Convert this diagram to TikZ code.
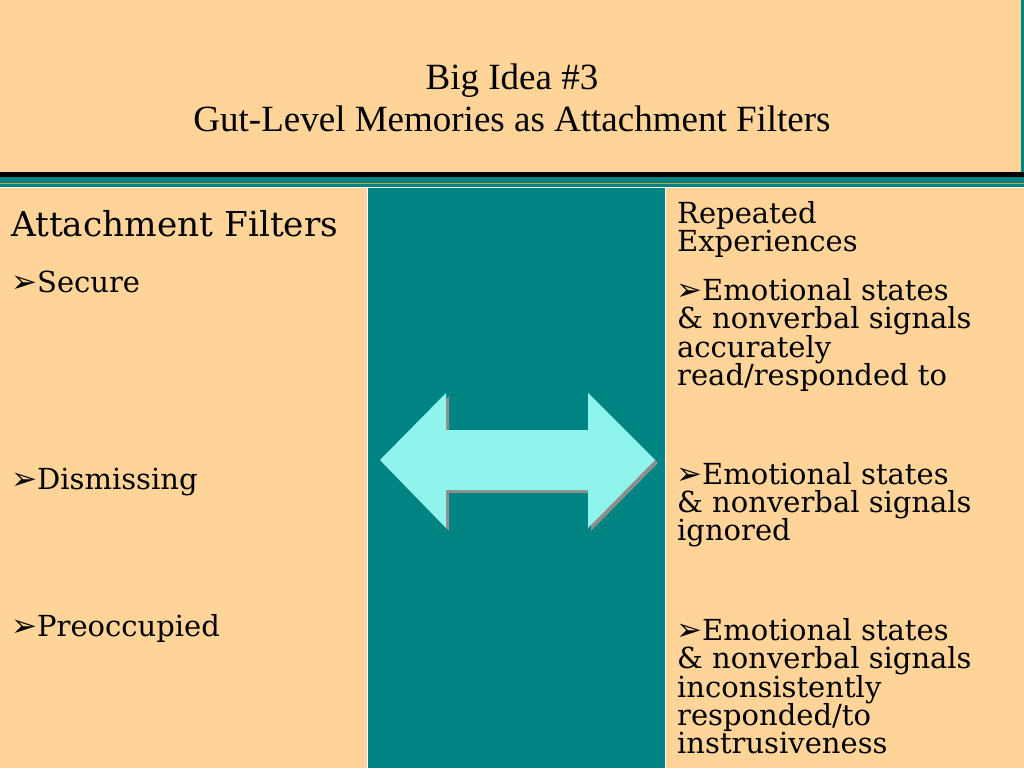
\documentclass[tikz,border=0pt]{standalone}
\usepackage{fontspec}
\setmainfont{DejaVu Serif}
\newfontfamily\titlefont{Liberation Serif}
\newfontfamily\symfont{DejaVu Sans}
\definecolor{peach}{HTML}{FFD499}
\definecolor{teal}{HTML}{008383}
\definecolor{aqua}{HTML}{8EF4EC}
\definecolor{gold}{HTML}{C8A040}
\newcommand{\bul}{{\symfont\fontsize{31}{31}\selectfont ➢}}
\begin{document}
\begin{tikzpicture}[x=1pt,y=-1pt,
  lbl/.style={anchor=base west,inner sep=0pt,font=\fontsize{29}{29}\selectfont},
  big/.style={anchor=base west,inner sep=0pt,font=\fontsize{34.3}{34}\selectfont},
  ttl/.style={anchor=base,inner sep=0pt,font=\titlefont\fontsize{37}{37}\selectfont}]
\useasboundingbox (0,0) rectangle (1024,768);
% background bands
\fill[teal] (0,0) rectangle (1024,768);
\fill[peach] (0,0) rectangle (1021,172);
\fill[black] (0,172) rectangle (1024,176.5);
\fill[gold] (0,182.5) rectangle (1024,184);
\fill[white] (0,186.5) rectangle (1024,188);
\fill[peach] (0,188) rectangle (366.5,768);
\fill[white] (366.5,188) rectangle (368,768);
\fill[white] (664.5,188) rectangle (666,768);
\fill[peach] (666,188) rectangle (1024,768);
% title
\node[ttl] (t1) at (512,89) {Big Idea \#3};
\node[ttl] (t2) at (512,131) {Gut-Level Memories as Attachment Filters};
% left panel
\node[big] (af) at (11,236) {Attachment Filters};
\node[lbl] (s) at (11,292) {\bul Secure};
\node[lbl] (d) at (11,489) {\bul Dismissing};
\node[lbl] (p) at (11,636) {\bul Preoccupied};
% right panel
\node[lbl] (r1) at (677,223) {Repeated};
\node[lbl] (r2) at (677,251) {Experiences};
\node[lbl] (a1) at (676,300) {\bul Emotional states};
\node[lbl] (a2) at (677,328) {\& nonverbal signals};
\node[lbl] (a3) at (677,357) {accurately};
\node[lbl] (a4) at (677,385) {read/responded to};
\node[lbl] (b1) at (676,484) {\bul Emotional states};
\node[lbl] (b2) at (677,512) {\& nonverbal signals};
\node[lbl] (b3) at (677,540) {ignored};
\node[lbl] (c1) at (676,640) {\bul Emotional states};
\node[lbl] (c2) at (677,668) {\& nonverbal signals};
\node[lbl] (c3) at (677,697) {inconsistently};
\node[lbl] (c4) at (677,725) {responded/to};
\node[lbl] (c5) at (677,753) {instrusiveness};
% double arrow
\fill[gray!90] (383,463) -- (449,396) -- (449,433) -- (591,433) -- (591,396) -- (658,463)
  -- (591,531) -- (591,493) -- (449,493) -- (449,531) -- cycle;
\fill[aqua] (380,460) -- (446,393) -- (446,430) -- (588,430) -- (588,393) -- (655,460)
  -- (588,528) -- (588,490) -- (446,490) -- (446,528) -- cycle;
\end{tikzpicture}
\end{document}
